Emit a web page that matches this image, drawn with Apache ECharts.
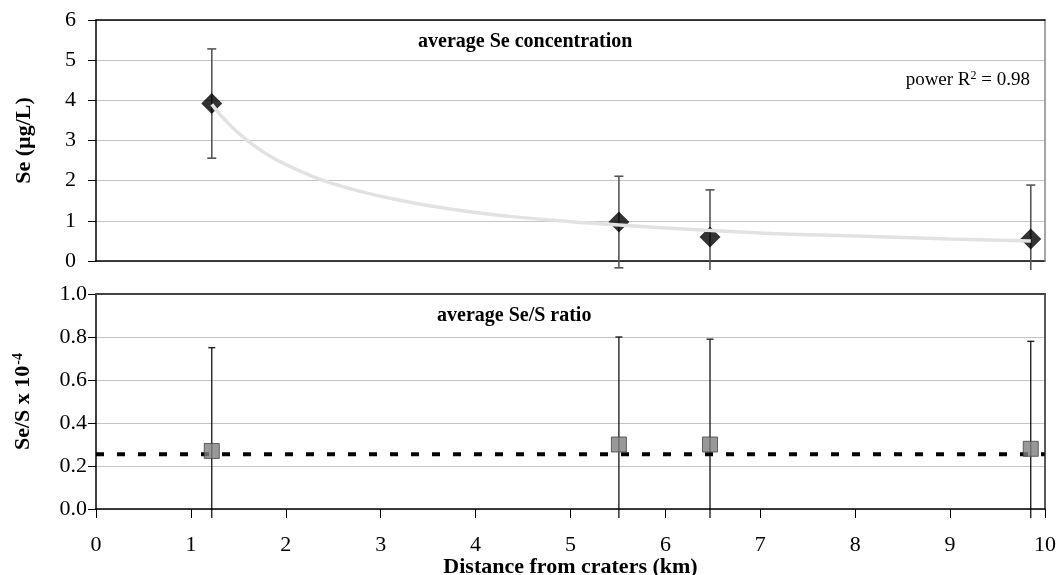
<!DOCTYPE html>
<html>
<head>
<meta charset="utf-8">
<script src="https://cdn.jsdelivr.net/npm/echarts@6/dist/echarts.min.js"></script>
<style>
  html, body { margin: 0; padding: 0; background: #fff; }
  #main { width: 1057px; height: 575px; }
</style>
</head>
<body>
<div id="main"></div>
<script>
// distance of the sampling sites (km)
var distKm = [1.22, 5.51, 6.47, 9.85];
// average Se concentration (ug/L) and its error
var seMean = [3.92, 0.97, 0.60, 0.55];
var seErr = [1.36, 1.14, 1.17, 1.34];
// average Se/S ratio (x 10^-4) and its error
var ratioMean = [0.27, 0.30, 0.30, 0.28];
var ratioErr = [0.48, 0.50, 0.49, 0.50];
// dashed reference level for the ratio
var ratioLevel = 0.255;
// power trend line
var fitX = [1.22, 1.4, 1.6, 1.8, 2.0, 2.3, 2.6, 3.0, 3.5, 4.0, 4.5, 5.0, 6.0, 7.0, 8.0, 9.0, 9.85];
var fitY = [3.90, 3.41, 2.99, 2.66, 2.40, 2.09, 1.85, 1.61, 1.38, 1.21, 1.08, 0.98, 0.82, 0.70, 0.62, 0.55, 0.50];

var font = 'Liberation Serif';
var chart = echarts.init(document.getElementById('main'));

function pairs(xs, ys) {
  return xs.map(function (x, i) { return [x, ys[i]]; });
}
function errRows(xs, m, e) {
  return xs.map(function (x, i) { return [x, m[i] - e[i], m[i] + e[i]]; });
}

// vertical error bar, cut off a little under the plot like the original
function errorBar(color, width, capHalf) {
  return function (params, api) {
    var x = api.value(0);
    var top = api.coord([x, api.value(2)]);
    var bot = api.coord([x, api.value(1)]);
    var cs = params.coordSys;
    var limit = cs.y + cs.height + 9;
    var kids = [];
    var clipped = bot[1] > limit;
    var by = clipped ? limit : bot[1];
    var st = { stroke: color, lineWidth: width };
    kids.push({ type: 'line', shape: { x1: top[0], y1: top[1], x2: top[0], y2: by }, style: st });
    kids.push({ type: 'line', shape: { x1: top[0] - capHalf, y1: top[1], x2: top[0] + capHalf, y2: top[1] }, style: st });
    if (!clipped) {
      kids.push({ type: 'line', shape: { x1: bot[0] - capHalf, y1: bot[1], x2: bot[0] + capHalf, y2: bot[1] }, style: st });
    }
    return { type: 'group', children: kids };
  };
}

function frameAxis(grid, pos, min, max, color, w) {
  return { gridIndex: grid, type: 'value', min: min, max: max, position: pos, z: 5,
    axisLine: { show: true, onZero: false, lineStyle: { color: color, width: w } },
    axisTick: { show: false }, axisLabel: { show: false }, splitLine: { show: false } };
}

var option = {
  animation: false,
  backgroundColor: '#fff',
  textStyle: { fontFamily: font },
  grid: [
    { left: 96, right: 12, top: 20, height: 241, containLabel: false, outerBoundsMode: 'none' },
    { left: 96, right: 12, top: 294, height: 215, containLabel: false, outerBoundsMode: 'none' }
  ],
  xAxis: [
    { gridIndex: 0, type: 'value', min: 0, max: 10, interval: 1,
      axisLine: { show: true, onZero: false, lineStyle: { color: '#000', width: 1.5 } },
      axisTick: { show: false }, axisLabel: { show: false }, splitLine: { show: false } },
    { gridIndex: 1, type: 'value', min: 0, max: 10, interval: 1,
      axisLine: { show: true, onZero: false, lineStyle: { color: '#000', width: 1.5 } },
      axisTick: { show: true, inside: false, length: 9, lineStyle: { color: '#000' } },
      axisLabel: { show: true, color: '#000', fontFamily: font, fontSize: 22, margin: 25 },
      splitLine: { show: false },
      name: 'Distance from craters (km)', nameLocation: 'middle', nameGap: 47, nameMoveOverlap: false,
      nameTextStyle: { color: '#000', fontFamily: font, fontSize: 22, fontWeight: 'bold' } },
    frameAxis(0, 'top', 0, 10, '#000', 1.5),
    frameAxis(1, 'top', 0, 10, '#444', 2)
  ],
  yAxis: [
    { gridIndex: 0, type: 'value', min: 0, max: 6, interval: 1,
      axisLine: { show: true, lineStyle: { color: '#000', width: 1.5 } },
      axisTick: { show: true, inside: false, length: 8, lineStyle: { color: '#000' } },
      axisLabel: { color: '#000', fontFamily: font, fontSize: 22, margin: 20 },
      splitLine: { show: true, lineStyle: { color: '#c4c4c4', width: 1.2 } },
      name: 'Se (\u00b5g/L)', nameLocation: 'middle', nameGap: 61, nameMoveOverlap: false,
      nameTextStyle: { color: '#000', fontFamily: font, fontSize: 22, fontWeight: 'bold' } },
    { gridIndex: 1, type: 'value', min: 0, max: 1, interval: 0.2,
      axisLine: { show: true, lineStyle: { color: '#000', width: 1.5 } },
      axisTick: { show: true, inside: false, length: 8, lineStyle: { color: '#000' } },
      axisLabel: { color: '#000', fontFamily: font, fontSize: 22, margin: 9,
        formatter: function (v) { return v.toFixed(1); } },
      splitLine: { show: true, lineStyle: { color: '#c4c4c4', width: 1.2 } },
      name: '{a|Se/S x 10}{s|-4}', nameLocation: 'middle', nameGap: 61, nameMoveOverlap: false,
      nameTextStyle: { color: '#000', fontFamily: font, fontSize: 22, fontWeight: 'bold',
        rich: {
          a: { fontFamily: font, fontSize: 22, fontWeight: 'bold', color: '#000' },
          s: { fontFamily: font, fontSize: 14, fontWeight: 'bold', color: '#000', verticalAlign: 'top', padding: [0, 0, 10, 1] }
        } } },
    frameAxis(0, 'right', 0, 6, '#888', 1.5),
    frameAxis(1, 'right', 0, 1, '#222', 1.5)
  ],
  graphic: [
    { type: 'text', left: 418, top: 32, z: 10,
      style: { text: 'average Se concentration', font: 'bold 20px "Liberation Serif"', fill: '#000' } },
    { type: 'text', left: 437, top: 306, z: 10,
      style: { text: 'average Se/S ratio', font: 'bold 20px "Liberation Serif"', fill: '#000' } },
    { type: 'text', right: 27, top: 70, z: 10,
      style: { rich: { n: { font: '19px "Liberation Serif"', fill: '#000' },
                       s: { font: '12px "Liberation Serif"', fill: '#000', verticalAlign: 'top', padding: [0, 0, 9, 0] } },
        text: '{n|power R}{s|2}{n| = 0.98}' } }
  ],
  series: [
    { type: 'custom', xAxisIndex: 0, yAxisIndex: 0, z: 2, clip: false,
      renderItem: errorBar('#555', 1.6, 4.5),
      encode: { x: 0, y: [1, 2] },
      data: errRows(distKm, seMean, seErr) },
    { type: 'scatter', xAxisIndex: 0, yAxisIndex: 0, z: 3,
      symbol: 'diamond', symbolSize: 21,
      itemStyle: { color: '#000' },
      data: pairs(distKm, seMean) },
    { type: 'line', xAxisIndex: 0, yAxisIndex: 0, z: 4, smooth: true,
      symbol: 'none', lineStyle: { color: '#e2e2e2', width: 3.5 },
      data: pairs(fitX, fitY) },
    { type: 'custom', xAxisIndex: 1, yAxisIndex: 1, z: 2, clip: false,
      renderItem: errorBar('#000', 1.2, 3.5),
      encode: { x: 0, y: [1, 2] },
      data: errRows(distKm, ratioMean, ratioErr) },
    { type: 'line', xAxisIndex: 1, yAxisIndex: 1, z: 3,
      symbol: 'none', lineStyle: { color: '#000', width: 4, type: [8, 13] },
      data: [[0, ratioLevel], [10, ratioLevel]] },
    { type: 'scatter', xAxisIndex: 1, yAxisIndex: 1, z: 4,
      symbol: 'rect', symbolSize: 15,
      itemStyle: { color: '#808080', borderColor: '#444', borderWidth: 1 },
      data: pairs(distKm, ratioMean) }
  ]
};
chart.setOption(option);
</script>
</body>
</html>
